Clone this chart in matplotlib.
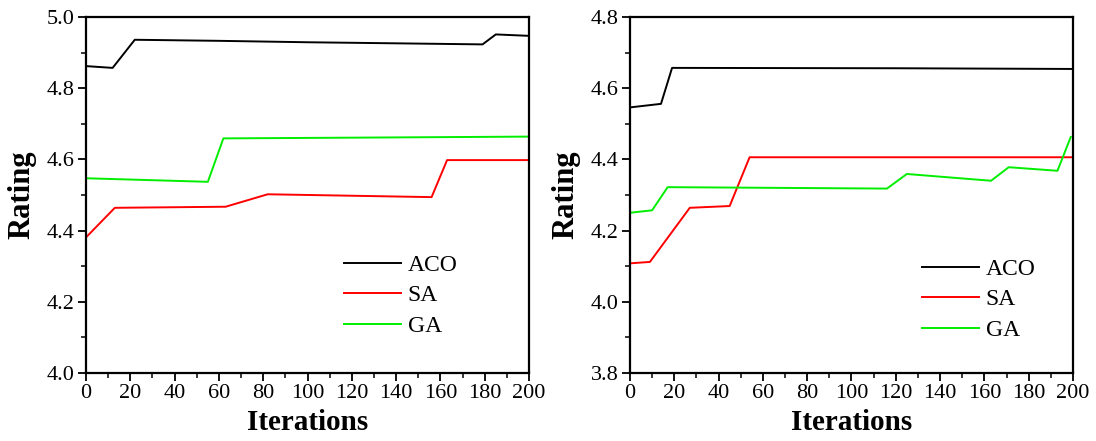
import matplotlib
matplotlib.use("Agg")
import matplotlib.pyplot as plt
from matplotlib.ticker import MultipleLocator, FormatStrFormatter

plt.rcParams['font.family'] = ['Liberation Serif', 'DejaVu Serif']

# rating per iteration, first run
iters_aco1 = [0, 12, 22, 60, 100, 140, 179, 185, 200]
aco1 = [4.862, 4.857, 4.936, 4.933, 4.929, 4.926, 4.923, 4.951, 4.947]
iters_sa1 = [0, 13, 63, 82, 156, 163, 200]
sa1 = [4.381, 4.464, 4.467, 4.502, 4.494, 4.598, 4.598]
iters_ga1 = [0, 55, 62, 120, 200]
ga1 = [4.547, 4.537, 4.659, 4.661, 4.664]

# second run
iters_aco2 = [0, 14, 19, 120, 200]
aco2 = [4.546, 4.556, 4.657, 4.656, 4.654]
iters_sa2 = [0, 9, 27, 45, 54, 200]
sa2 = [4.108, 4.112, 4.264, 4.269, 4.406, 4.406]
iters_ga2 = [0, 10, 17, 116, 125, 163, 171, 193, 199]
ga2 = [4.250, 4.257, 4.322, 4.318, 4.359, 4.340, 4.378, 4.368, 4.463]

labels = ["ACO", "SA", "GA"]
colors = ["black", "#ff0000", "#00ee00"]

fig = plt.figure(figsize=(10.96, 4.41), dpi=100)
ax1 = fig.add_axes([0.0785, 0.1542, 0.4042, 0.8073])
ax2 = fig.add_axes([0.5748, 0.1542, 0.4042, 0.8073])

panels = [
    (ax1, [(iters_aco1, aco1), (iters_sa1, sa1), (iters_ga1, ga1)], (4.0, 5.0), (0.582, 0.333)),
    (ax2, [(iters_aco2, aco2), (iters_sa2, sa2), (iters_ga2, ga2)], (3.8, 4.8), (0.659, 0.322)),
]

for ax, series, ylim, legpos in panels:
    for (x, y), lab, c in zip(series, labels, colors):
        ax.plot(x, y, color=c, lw=1.4, label=lab)
    ax.set_xlim(0, 200)
    ax.set_ylim(*ylim)
    ax.xaxis.set_major_locator(MultipleLocator(20))
    ax.xaxis.set_minor_locator(MultipleLocator(10))
    ax.yaxis.set_major_locator(MultipleLocator(0.2))
    ax.yaxis.set_minor_locator(MultipleLocator(0.1))
    ax.yaxis.set_major_formatter(FormatStrFormatter('%.1f'))
    ax.tick_params(which='major', direction='out', length=6, width=1.3, labelsize=16, pad=2)
    ax.tick_params(which='minor', direction='out', length=3.5, width=1.1)
    for s in ax.spines.values():
        s.set_linewidth(1.6)
    ax.set_xlabel("Iterations", fontsize=21, fontweight='bold')
    ax.set_ylabel("Rating", fontsize=22, fontweight='bold')
    ax.xaxis.set_label_coords(0.5, -0.1)
    ax.yaxis.set_label_coords(-0.111, 0.5)
    ax.legend(loc='upper left', bbox_to_anchor=legpos, frameon=False, fontsize=17,
              handlelength=2.4, handletextpad=0.3, labelspacing=0.38,
              borderpad=0, borderaxespad=0)

fig.savefig("out.png", dpi=100)
